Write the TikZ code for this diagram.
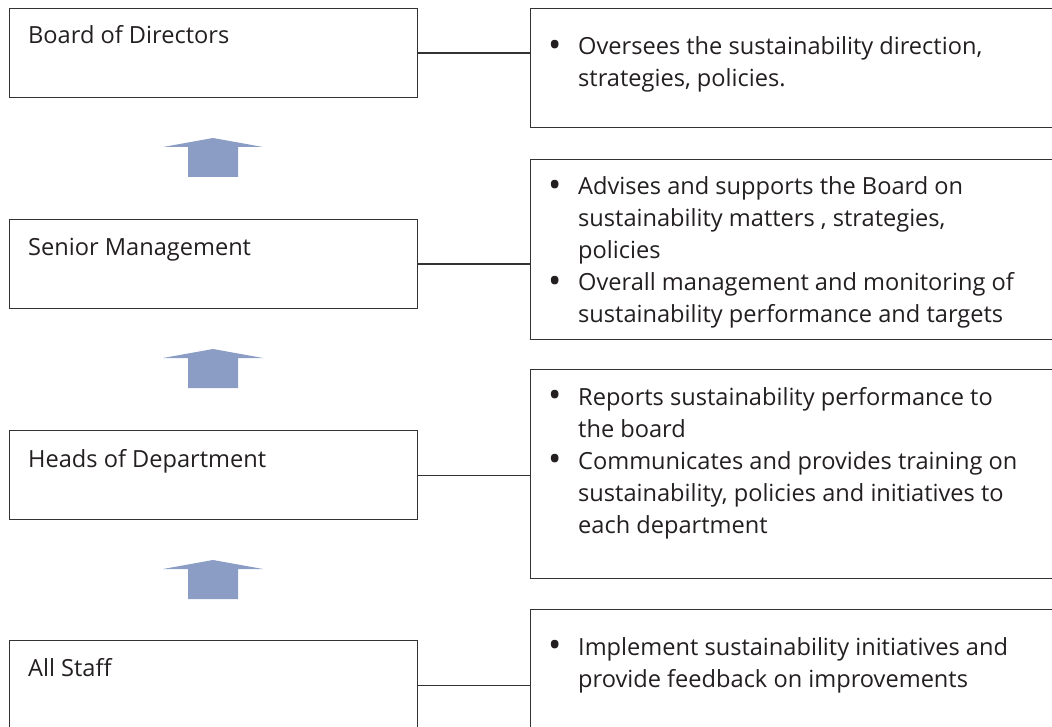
\documentclass[tikz,border=0pt]{standalone}
\usepackage{fontspec}
\usepackage{graphicx}
\setmainfont{Open Sans}
\usetikzlibrary{positioning}

\definecolor{arrowblue}{RGB}{139,157,196}
\definecolor{boxline}{RGB}{51,51,51}
\definecolor{textgray}{RGB}{35,31,32}

\newcommand{\bul}{\hspace{2pt}\raisebox{-2.5pt}{\scalebox{1.5}{\textbullet}}}

\tikzset{
  rolebox/.style={draw=boxline, line width=1.2pt, anchor=north west, inner sep=0pt,
    minimum width=408pt, minimum height=89pt},
  dutybox/.style={draw=boxline, line width=1.2pt, anchor=north west, inner sep=0pt,
    minimum width=560pt},
  roletext/.style={anchor=base west, inner sep=0pt, text=textgray,
    font=\fontsize{23.6}{32}\selectfont},
  dutytext/.style={anchor=base west, inner sep=0pt, text=textgray,
    font=\fontsize{23.6}{32}\selectfont},
  link/.style={draw=boxline, line width=1.2pt},
}

\begin{document}
\begin{tikzpicture}[x=1pt,y=-1pt]
  \useasboundingbox (0,0) rectangle (1052,727);
  \clip (0,0) rectangle (1052,727);

  % left column
  \node[rolebox] (board) at (9,8) {};
  \node[rolebox] (senior) at (9,219) {};
  \node[rolebox] (heads) at (9,430) {};
  \node[rolebox] (staff) at (9,640) {};
  \node[roletext] (boardlbl) at ([shift={(19,36)}]board.north west) {Board of Directors};
  \node[roletext] (seniorlbl) at ([shift={(19,37)}]senior.north west) {Senior Management};
  \node[roletext] (headslbl) at ([shift={(19,37)}]heads.north west) {Heads of Department};
  \node[roletext] (stafflbl) at ([shift={(19,36)}]staff.north west) {All Staff};

  % right column
  \node[dutybox, minimum height=119pt] (boardduty) at (530,8) {};
  \node[dutybox, minimum height=180pt] (seniorduty) at (530,159) {};
  \node[dutybox, minimum height=209pt] (headsduty) at (530,369) {};
  \node[dutybox, minimum height=160pt] (staffduty) at (530,609) {};
  \node[dutytext] (boardtxt) at ([shift={(16,47)}]boardduty.north west)
    {\begin{tabular}[t]{@{}p{32pt}@{}l@{}}
      \bul & Oversees the sustainability direction,\\
           & strategies, policies.
     \end{tabular}};
  \node[dutytext] (seniortxt) at ([shift={(16,36)}]seniorduty.north west)
    {\begin{tabular}[t]{@{}p{32pt}@{}l@{}}
      \bul & Advises and supports the Board on\\
           & sustainability matters , strategies,\\
           & policies\\
      \bul & Overall management and monitoring of\\
           & sustainability performance and targets
     \end{tabular}};
  \node[dutytext] (headstxt) at ([shift={(16,36)}]headsduty.north west)
    {\begin{tabular}[t]{@{}p{32pt}@{}l@{}}
      \bul & Reports sustainability performance to\\
           & the board\\
      \bul & Communicates and provides training on\\
           & sustainability, policies and initiatives to\\
           & each department
     \end{tabular}};
  \node[dutytext] (stafftxt) at ([shift={(16,46)}]staffduty.north west)
    {\begin{tabular}[t]{@{}p{32pt}@{}l@{}}
      \bul & Implement sustainability initiatives and\\
           & provide feedback on improvements
     \end{tabular}};

  % links
  \draw[link] (board.east) -- (board.east -| boardduty.west);
  \draw[link] (senior.east) -- (senior.east -| seniorduty.west);
  \draw[link] (heads.east) -- (heads.east -| headsduty.west);
  \draw[link] (staff.east) -- (staff.east -| staffduty.west);

  % upward arrows
  \foreach \y in {138,349,560}
    \fill[arrowblue] (213,\y) -- (263,\y+9) -- (238,\y+9) -- (238,\y+39)
      -- (188,\y+39) -- (188,\y+9) -- (163,\y+9) -- cycle;
\end{tikzpicture}
\end{document}
